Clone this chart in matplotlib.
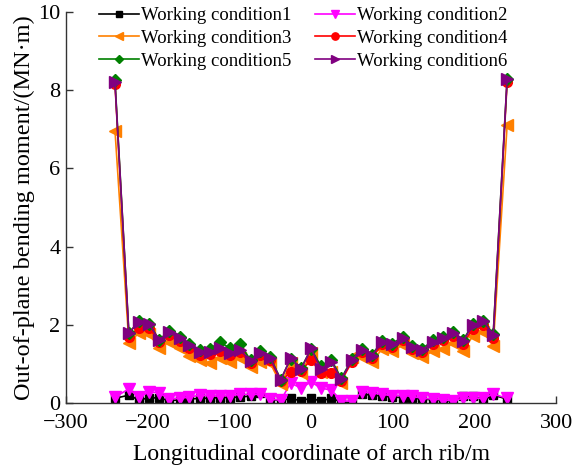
import numpy as np
import matplotlib.pyplot as plt

plt.rcParams['font.family'] = ['Liberation Serif', 'DejaVu Serif']
plt.rcParams['mathtext.fontset'] = 'stix'

# longitudinal coordinate of the nodes along the arch rib (m)
x = [-240, -223, -211, -198, -186, -174, -161, -149, -136, -124, -112, -99, -87,
     -74, -62, -50, -37, -25, -12, 0, 12, 25, 37, 50, 62, 74, 87, 99, 112, 124,
     136, 149, 161, 174, 186, 198, 211, 223, 240]

wc1 = [0.12, 0.20, 0.08, 0.13, 0.13, 0.06, 0.08, 0.10, 0.12, 0.12, 0.14, 0.14, 0.15,
       0.18, 0.26, 0.10, 0.05, 0.12, 0.05, 0.13, 0.04, 0.13, 0.02, 0.02, 0.23, 0.20,
       0.18, 0.15, 0.14, 0.12, 0.10, 0.08, 0.06, 0.05, 0.17, 0.17, 0.07, 0.20, 0.10]
wc2 = [0.15, 0.36, 0.15, 0.28, 0.26, 0.10, 0.12, 0.15, 0.20, 0.18, 0.18, 0.19, 0.22,
       0.22, 0.22, 0.10, 0.07, 0.51, 0.38, 0.54, 0.38, 0.33, 0.05, 0.05, 0.28, 0.26,
       0.22, 0.19, 0.19, 0.17, 0.12, 0.10, 0.08, 0.06, 0.12, 0.12, 0.12, 0.23, 0.12]
wc3 = [6.97, 1.53, 1.79, 1.76, 1.41, 1.56, 1.41, 1.20, 1.10, 1.02, 1.15, 1.05, 1.15,
       0.93, 1.05, 1.02, 0.48, 1.02, 0.77, 1.28, 0.80, 0.80, 0.51, 1.17, 1.17, 1.05,
       1.38, 1.33, 1.48, 1.28, 1.17, 1.33, 1.38, 1.53, 1.33, 1.71, 1.82, 1.46, 7.10]
wc4 = [8.15, 1.70, 1.92, 1.93, 1.55, 1.73, 1.58, 1.40, 1.24, 1.25, 1.33, 1.22, 1.30,
       1.02, 1.22, 1.10, 0.55, 0.80, 0.83, 1.10, 0.77, 0.77, 0.57, 1.05, 1.30, 1.14,
       1.50, 1.44, 1.60, 1.37, 1.30, 1.50, 1.60, 1.72, 1.52, 1.90, 2.00, 1.65, 8.20]
wc5 = [8.25, 1.78, 2.10, 2.02, 1.62, 1.83, 1.68, 1.50, 1.36, 1.38, 1.56, 1.40, 1.50,
       1.10, 1.33, 1.17, 0.60, 1.13, 0.90, 1.38, 0.95, 1.10, 0.63, 1.12, 1.38, 1.22,
       1.58, 1.52, 1.68, 1.46, 1.38, 1.60, 1.68, 1.82, 1.60, 2.02, 2.10, 1.76, 8.28]
wc6 = [8.20, 1.79, 2.07, 2.02, 1.61, 1.81, 1.66, 1.48, 1.30, 1.30, 1.40, 1.28, 1.36,
       1.07, 1.28, 1.15, 0.59, 1.15, 0.87, 1.40, 0.87, 1.05, 0.61, 1.10, 1.36, 1.20,
       1.56, 1.50, 1.66, 1.43, 1.36, 1.56, 1.66, 1.79, 1.58, 1.99, 2.10, 1.74, 8.30]

series = [wc1, wc2, wc3, wc4, wc5, wc6]
labels = ["Working condition1", "Working condition2", "Working condition3",
          "Working condition4", "Working condition5", "Working condition6"]
colors = ['black', '#FF00FF', '#FF8000', '#FF0000', '#008000', '#800080']
markers = ['s', 'v', '<', 'o', 'D', '>']
msizes = [6, 8, 8, 7, 6, 8]

fig = plt.figure(figsize=(5.87, 4.71), dpi=100)
ax = fig.add_axes([0.1124, 0.1444, 0.835, 0.830])

handles = []
for i, y in enumerate(series):
    h, = ax.plot(x, y, color=colors[i], marker=markers[i], markersize=msizes[i],
                 linewidth=1.2, label=labels[i])
    handles.append(h)

ax.set_xlim(-300, 300)
ax.set_ylim(0, 10)
ax.set_xticks([-300, -200, -100, 0, 100, 200, 300])
ax.set_yticks([0, 2, 4, 6, 8, 10])
ax.set_xticklabels(["\u2212300", "\u2212200", "\u2212100", "0", "100", "200", "300"])
ax.tick_params(direction='in', labelsize=16, length=5, width=1, colors='#333333',
               labelcolor='black')
ax.tick_params(axis='x', pad=8)
ax.tick_params(axis='y', pad=4)
ax.spines['top'].set_visible(False)
ax.spines['right'].set_visible(False)
for s in ['left', 'bottom']:
    ax.spines[s].set_color('#333333')
    ax.spines[s].set_linewidth(1)

ax.set_xlabel("Longitudinal coordinate of arch rib/m", fontsize=17, labelpad=8)
ax.set_ylabel("Out-of-plane bending moment/(MN\u00b7m)", fontsize=17.5, labelpad=2)

# row-major order: 1 2 / 3 4 / 5 6
order = [0, 2, 4, 1, 3, 5]
leg = ax.legend([handles[k] for k in order], [labels[k] for k in order],
                ncol=2, loc='upper left', bbox_to_anchor=(99 / 587, 1 - 7 / 471),
                bbox_transform=fig.transFigure, frameon=False,
                fontsize=13.5, handlelength=2.15, handletextpad=0.1, columnspacing=1.25,
                labelspacing=0.3, markerscale=0.75, borderaxespad=0, borderpad=0)

fig.savefig("out.png", dpi=100)
